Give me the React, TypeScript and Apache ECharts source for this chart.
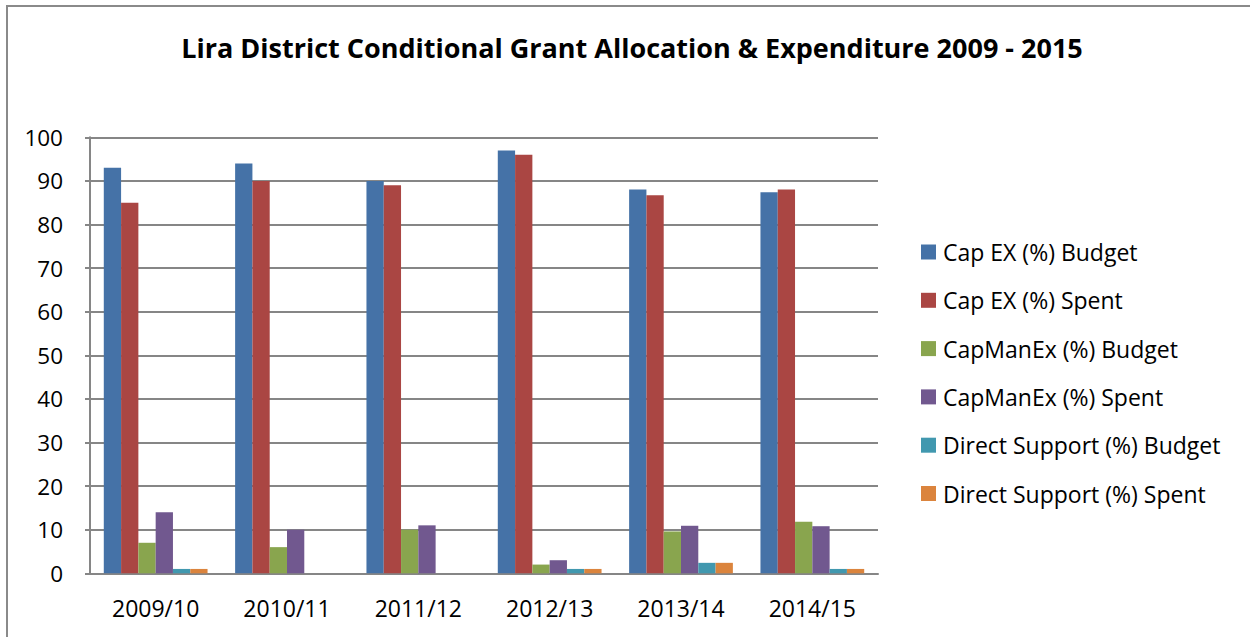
import React, { useEffect, useRef } from "react";
import * as echarts from "echarts";

const categories = ["2009/10", "2010/11", "2011/12", "2012/13", "2013/14", "2014/15"];
const seriesNames = [
  "Cap EX (%) Budget",
  "Cap EX (%) Spent",
  "CapManEx (%) Budget",
  "CapManEx (%) Spent",
  "Direct Support (%) Budget",
  "Direct Support (%) Spent",
];
const capExBudget = [93, 94, 90, 97, 88, 87.4];
const capExSpent = [85, 90, 89, 96, 86.7, 88];
const capManExBudget = [7, 6, 10, 2, 9.6, 11.8];
const capManExSpent = [14, 10, 11, 3, 10.9, 10.8];
const directSupportBudget = [1, 0, 0, 1, 2.4, 1];
const directSupportSpent = [1, 0, 0, 1, 2.4, 1];
const colors = ["#4572A7", "#AA4643", "#89A54E", "#71588F", "#4198AF", "#DB843D"];
const titleText = "Lira District Conditional Grant Allocation & Expenditure 2009 - 2015";

export default function App() {
  const ref = useRef<HTMLDivElement>(null);
  useEffect(() => {
    if (!ref.current) return;
    const chart = echarts.init(ref.current, undefined, { renderer: "svg" });
    const allData = [
      capExBudget,
      capExSpent,
      capManExBudget,
      capManExSpent,
      directSupportBudget,
      directSupportSpent,
    ];
    const font = "'Open Sans', sans-serif";
    chart.setOption({
      animation: false,
      color: colors,
      title: {
        text: titleText,
        left: 627,
        top: 29,
        textAlign: "center",
        textStyle: { fontFamily: font, fontWeight: "bold", fontSize: 27, color: "#000" },
      },
      graphic: [
        {
          type: "rect",
          shape: { x: 7, y: 6, width: 1270, height: 660 },
          style: { fill: "none", stroke: "#8a8a8a", lineWidth: 2 },
          silent: true,
        },
      ],
      legend: {
        orient: "vertical",
        left: 916,
        top: 235,
        itemWidth: 15,
        itemHeight: 15,
        itemGap: 24.3,
        icon: "rect",
        textStyle: { fontFamily: font, fontSize: 23, color: "#000", lineHeight: 24, padding: [0, 0, 0, 2] },
        data: seriesNames,
      },
      grid: { left: 90, right: 372, top: 137.3, bottom: 63.7, containLabel: false },
      xAxis: {
        type: "category",
        data: categories,
        axisLine: { show: true, lineStyle: { color: "#868686", width: 2 } },
        axisTick: { show: false },
        axisLabel: { fontFamily: font, fontSize: 23, color: "#000", margin: 23 },
      },
      yAxis: {
        type: "value",
        min: 0,
        max: 100,
        interval: 10,
        axisLine: { show: true, lineStyle: { color: "#868686", width: 2 } },
        axisTick: { show: true, length: 5, lineStyle: { color: "#868686", width: 2 } },
        splitLine: { show: true, lineStyle: { color: "#868686", width: 2 } },
        axisLabel: { fontFamily: font, fontSize: 22.5, color: "#000", margin: 27 },
      },
      series: seriesNames.map((name, i) => ({
        name,
        type: "bar",
        data: allData[i],
        barGap: "0%",
        barCategoryGap: "21%",
        itemStyle: { color: colors[i] },
      })),
    });
    return () => chart.dispose();
  }, []);
  return (
    <div
      ref={ref}
      style={{ position: "fixed", left: 0, top: 0, width: 1250, height: 637, background: "#fff" }}
    />
  );
}
